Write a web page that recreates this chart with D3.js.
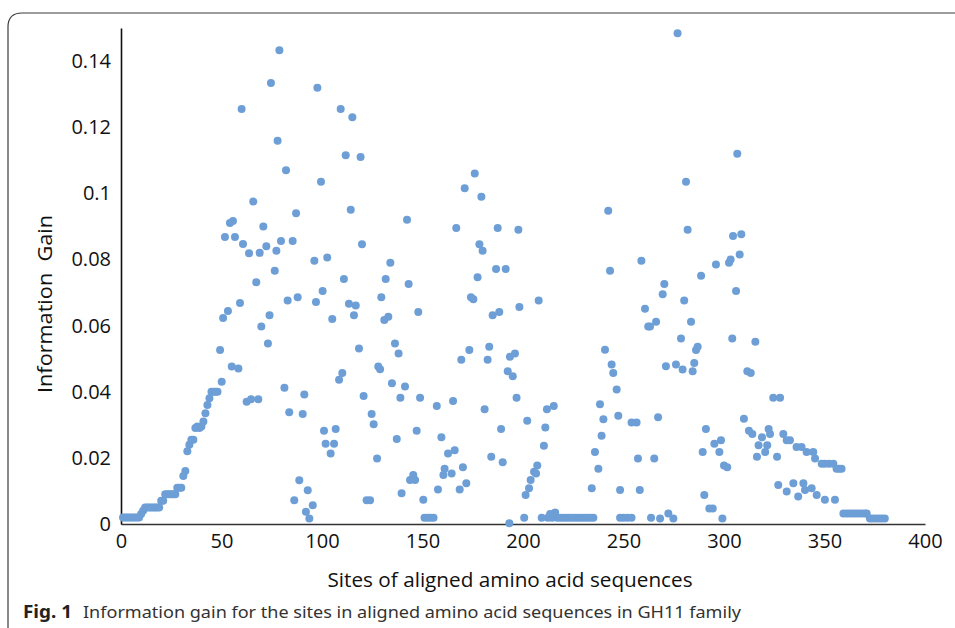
<!DOCTYPE html>
<html>
<head>
<meta charset="utf-8">
<script src="https://cdn.jsdelivr.net/npm/d3@7"></script>
<style>
html,body{margin:0;padding:0;background:#fff;}
svg{display:block;}
</style>
</head>
<body>
<svg id="chart" width="955" height="628"></svg>
<script>
const sites = [
1,2,3,4,5,6,7,8,9,10,11,12,13,14,15,16,17,18,19,20,21,22,23,24,25,26,27,28,29,30,
31,32,33,34,35,36,37,38,39,40,41,42,43,44,45,46,47,48,
49.3,50.1,50.8,51.7,53.2,54.2,55.1,55.7,56.7,58.4,59.2,60,60.7,62.5,63.7,64.7,65.8,67.3,68.3,69,
69.8,70.8,72.3,73.1,73.9,74.6,76.5,77.3,77.9,78.8,79.6,81.3,82.1,82.9,83.7,85.4,86.2,87.1,87.9,88.7,
90.4,91.2,92,92.9,93.7,95.4,96.2,97,97.7,99.5,100.3,101,101.8,102.6,104.3,105.1,106,106.8,108.5,109.3,
110.1,110.9,111.8,113.4,114.3,115.1,115.9,116.8,118.4,119.2,119.9,120.7,122.2,123.9,124.7,125.7,127.4,128,128.9,129.5,
131,131.7,133,134,134.8,136.3,137.2,138.1,139,139.6,141.3,142.3,143.1,143.8,145.4,146.3,147.1,147.9,148.8,150.4,
151,152.5,154,155.5,157.1,157.7,159.4,160.4,161,162.7,164.5,165.2,166,166.8,168.5,169.3,170.1,171,171.8,173.3,
174.1,175.3,176,177.4,178.3,179.3,179.9,180.9,182.4,183.2,184.2,184.9,186.6,187.4,188.2,189.1,189.9,191.4,192.4,193.2,
193.5,194.9,196,196.8,197.7,198.2,200.6,201.3,202.1,203,203.8,205.5,206.5,207.1,207.8,209.3,210.4,211.1,211.9,212.4,
213.5,214.5,215.3,216,217,218.5,220,221.5,223,224.5,226,227.5,229,230.5,232,233.5,235,234.2,235.8,237.5,
238.3,239.1,240,240.8,242.4,243.3,244.1,244.9,246.6,247.4,248.3,248.3,250,252,254,254,256.5,257.2,258.1,258.9,
260.7,262.3,263.2,263.7,265.3,266.2,267.2,268.2,269.5,270.3,271.1,272.3,274.8,276.1,276.9,278.6,279.4,280.2,281.1,281.9,
283.6,284.4,285.2,286.1,286.9,288.6,289.4,290.2,291,292.7,294.4,295.2,296,297.7,298.5,299.2,300,301.6,302.5,303.3,
304.1,304.5,306,306.6,307.8,308.6,309.9,311.6,312.4,313.3,314.1,315.6,316.4,317.2,318.9,320.5,321.5,322.2,322.9,324.5,
326.4,327,327.9,329.5,331.2,331.2,332.8,334.5,336.1,336.9,338.6,339.5,340.3,341.1,343.6,344.4,345.3,346.1,348.6,350.2,
350.2,352.3,354.4,355.2,356,357.3,358.5,359.4,361,362.5,364,365.5,367,368.5,370,371,372.6,374,375.5,377,
378.5,380
];
const gain = [
.002,.002,.002,.002,.002,.002,.002,.002,.002,.003,.004,.005,.005,.005,.005,.005,.005,.005,.005,.007,.007,.009,.009,.009,.009,.009,.009,.011,.011,.011,
.0145,.016,.022,.024,.0255,.0255,.029,.0295,.029,.0295,.031,.0335,.036,.038,.040,.040,.040,.040,
.0526,.043,.0623,.0868,.0644,.091,.0476,.0916,.0868,.047,.0668,.1255,.0847,.037,.0819,.0377,.0975,.0731,.0377,.082,
.0597,.090,.084,.0546,.0631,.1334,.0766,.0826,.1159,.1433,.0856,.0412,.107,.0676,.0338,.0856,.0072,.094,.0686,.0132,
.0333,.0392,.0037,.0102,.0017,.0057,.0796,.0671,.1319,.1035,.0705,.0282,.0243,.0806,.0213,.062,.0243,.0287,.0436,.1255,
.0457,.0741,.1115,.0666,.095,.123,.0631,.0661,.0531,.111,.0846,.0387,.0072,.0072,.0333,.0302,.0198,.0476,.0468,.0686,
.0617,.0741,.0627,.079,.0426,.0546,.0257,.0516,.0382,.0093,.0416,.092,.0726,.0133,.0148,.0133,.0282,.0641,.0382,.0073,
.0019,.0019,.0019,.0019,.0357,.0104,.0262,.0148,.0167,.0213,.0153,.0372,.0223,.0895,.0104,.0497,.0172,.1015,.0123,.0526,
.0686,.068,.106,.0746,.0846,.099,.0826,.0347,.0497,.0536,.0203,.0631,.0771,.0895,.0641,.0287,.0187,.0771,.0462,.0002,
.0506,.0447,.0516,.0382,.089,.0656,.0019,.0088,.0312,.0108,.0133,.0158,.0153,.0177,.0676,.0019,.0237,.0292,.0347,.0019,
.003,.0019,.0357,.0035,.0019,.0019,.0019,.0019,.0019,.0019,.0019,.0019,.0019,.0019,.0019,.0019,.0019,.0108,.0218,.0167,
.0362,.0267,.0317,.0527,.0947,.0766,.0482,.0457,.0407,.0327,.0103,.0019,.0019,.0019,.0019,.0307,.0307,.0198,.0103,.0796,
.0651,.0597,.0597,.0019,.0198,.0612,.0323,.0017,.0695,.0726,.0477,.0032,.0017,.0482,.1484,.0561,.0467,.0676,.1035,.089,
.0612,.0462,.0487,.0526,.0536,.0751,.0218,.0088,.0287,.0047,.0047,.0243,.0785,.0218,.0253,.0017,.0177,.0172,.079,.08,
.0561,.0871,.0705,.112,.0815,.0876,.0318,.0462,.0282,.0457,.0272,.0551,.0203,.0238,.0262,.0218,.0238,.0287,.0272,.0382,
.0203,.0118,.0382,.0272,.0253,.0098,.0253,.0123,.0233,.0083,.0233,.0123,.0103,.0218,.0108,.0218,.0198,.0088,.0182,.0073,
.0182,.0182,.0182,.0073,.0167,.0167,.0167,.0032,.0032,.0032,.0032,.0032,.0032,.0032,.0032,.0032,.0017,.0017,.0017,.0017,
.0017,.0017
];
const xTickValues = [0,50,100,150,200,250,300,350,400];
const yTickValues = [0,0.02,0.04,0.06,0.08,0.1,0.12,0.14];
const yTickLabels = ["0","0.02","0.04","0.06","0.08","0.1","0.12","0.14"];
const xTitle = "Sites of aligned amino acid sequences";
const yTitle = "Information\u00a0\u00a0Gain";
const captionBold = "Fig. 1";
const captionText = "Information gain for the sites in aligned amino acid sequences in GH11 family";

const svg = d3.select("#chart");
const font = "'Open Sans', sans-serif";

// frame
svg.append("path")
  .attr("d", "M8,628 L8,27 Q8,13 22,13 L955,13")
  .attr("fill","none").attr("stroke","#3a3a3a").attr("stroke-width",1.2);

const x = d3.scaleLinear().domain([0,400]).range([121,925]);
const y = d3.scaleLinear().domain([0,0.15]).range([524,28]);

const gx = svg.append("g").attr("transform","translate(0,524)")
  .call(d3.axisBottom(x).tickValues(xTickValues).tickSize(0).tickPadding(10).tickFormat(d3.format("d")));
gx.select(".domain").attr("stroke","#333").attr("stroke-width",1.6);
gx.selectAll("text").attr("font-family",font).attr("font-size",20).attr("fill","#111");

const gy = svg.append("g").attr("transform","translate(121,0)")
  .call(d3.axisLeft(y).tickValues(yTickValues).tickSize(0).tickPadding(10).tickFormat((d,i)=>yTickLabels[i]));
gy.select(".domain").attr("stroke","#111").attr("stroke-width",1.6);
gy.selectAll("text").attr("font-family",font).attr("font-size",20).attr("fill","#111");

// points
svg.append("g").selectAll("circle")
  .data(sites.map((s,i)=>({s, g: gain[i]})))
  .join("circle")
  .attr("cx", d=>x(d.s))
  .attr("cy", d=>y(d.g))
  .attr("r", 4)
  .attr("fill", "#6d9fd6");

// titles
svg.append("text").attr("x",510).attr("y",587).attr("text-anchor","middle")
  .attr("font-family",font).attr("font-size",20).attr("fill","#111")
  .attr("textLength",365).attr("lengthAdjust","spacingAndGlyphs")
  .text(xTitle);
svg.append("text").attr("transform","translate(52,304) rotate(-90)").attr("text-anchor","middle")
  .attr("font-family",font).attr("font-size",20).attr("fill","#111")
  .attr("textLength",178).attr("lengthAdjust","spacingAndGlyphs")
  .text(yTitle);

// caption
svg.append("text").attr("x",23).attr("y",618)
  .attr("font-family","'Noto Sans', sans-serif").attr("font-size",17).attr("font-weight","bold").attr("fill","#222")
  .attr("textLength",49).attr("lengthAdjust","spacingAndGlyphs")
  .text(captionBold);
svg.append("text").attr("x",83).attr("y",618)
  .attr("font-family","'Noto Sans', sans-serif").attr("font-size",17).attr("fill","#333")
  .attr("textLength",658).attr("lengthAdjust","spacingAndGlyphs")
  .text(captionText);
</script>
</body>
</html>
